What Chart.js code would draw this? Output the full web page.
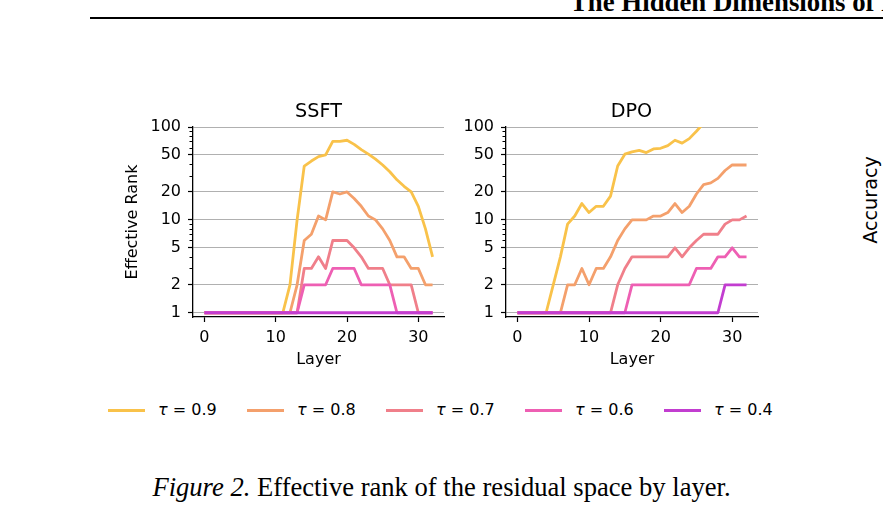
<!DOCTYPE html>
<html>
<head>
<meta charset="utf-8">
<script src="https://cdn.jsdelivr.net/npm/chart.js@4.4.1/dist/chart.umd.min.js"></script>
<style>
  html, body { margin: 0; padding: 0; }
  body {
    width: 883px; height: 529px; position: relative; overflow: hidden;
    background: #fff; color: #000; font-family: "DejaVu Sans", sans-serif;
  }
  .abs { position: absolute; }
  #runhead {
    left: 570px; top: -11px; white-space: nowrap;
    font: bold 26.8px/1 "Liberation Serif", serif;
  }
  #rule { left: 90px; right: 0; top: 17px; height: 2px; background: #000; }
  .ptitle { top: 100px; width: 251px; text-align: center; font-size: 19.2px; line-height: 22px; }
  #sideLabel {
    left: 870px; top: 200px; white-space: nowrap; font-size: 19.2px;
    transform: translate(-50%, -50%) rotate(-90deg);
  }
  #legend { left: 108px; top: 400px; display: flex; font-size: 16px; line-height: 20px; }
  #legend .item { width: 139px; display: flex; align-items: center; white-space: nowrap; }
  #legend .swatch { width: 37px; height: 3px; margin-right: 13px; }
  #caption {
    left: 0; width: 883px; top: 474px; text-align: center;
    font: 26.6px/1 "Liberation Serif", serif;
  }
</style>
</head>
<body>
<div id="runhead" class="abs">The Hidden Dimensions of LLM Alignment</div>
<div id="rule" class="abs"></div>

<canvas id="ssftChart" class="abs" width="331" height="269" style="left:121px;top:100px"></canvas>
<canvas id="dpoChart" class="abs" width="332" height="269" style="left:434px;top:100px"></canvas>

<div class="abs ptitle" style="left:193px">SSFT</div>
<div class="abs ptitle" style="left:506px">DPO</div>
<div id="sideLabel" class="abs">Accuracy</div>

<div id="legend" class="abs"></div>
<div id="caption" class="abs"><i>Figure 2.</i> Effective rank of the residual space by layer.</div>

<script>
const layers = [0, 1, 2, 3, 4, 5, 6, 7, 8, 9, 10, 11, 12, 13, 14, 15, 16,
                17, 18, 19, 20, 21, 22, 23, 24, 25, 26, 27, 28, 29, 30, 31, 32];
const taus = ['0.9', '0.8', '0.7', '0.6', '0.4'];
const seriesColors = ['#f9c24a', '#f4a06c', '#f07f8a', '#ee5fb3', '#c23dd0'];

// SSFT effective rank per layer
const ssft09 = [1,1,1,1,1,1,1,1,1,1,1,1,2,10,38,43,48,50,70,70,72,65,57,51,45,39,33,27,23,20,14,8,4];
const ssft08 = [1,1,1,1,1,1,1,1,1,1,1,1,1,2,6,7,11,10,20,19,20,17,14,11,10,8,6,4,4,3,3,2,2];
const ssft07 = [1,1,1,1,1,1,1,1,1,1,1,1,1,1,3,3,4,3,6,6,6,5,4,3,3,3,2,2,2,2,1,1,1];
const ssft06 = [1,1,1,1,1,1,1,1,1,1,1,1,1,1,2,2,2,2,3,3,3,3,2,2,2,2,2,1,1,1,1,1,1];
const ssft04 = [1,1,1,1,1,1,1,1,1,1,1,1,1,1,1,1,1,1,1,1,1,1,1,1,1,1,1,1,1,1,1,1,1];

// DPO effective rank per layer (0.9 runs off the top of the axis)
const dpo09 = [1,1,1,1,1,2,4,9,11,15,12,14,14,18,38,51,54,56,53,58,59,63,72,67,75,90,110,125,135,145,155,160,165];
const dpo08 = [1,1,1,1,1,1,1,2,2,3,2,3,3,4,6,8,10,10,10,11,11,12,15,12,14,19,24,25,28,34,39,39,39];
const dpo07 = [1,1,1,1,1,1,1,1,1,1,1,1,1,1,2,3,4,4,4,4,4,4,5,4,5,6,7,7,7,9,10,10,11];
const dpo06 = [1,1,1,1,1,1,1,1,1,1,1,1,1,1,1,1,2,2,2,2,2,2,2,2,2,3,3,3,4,4,5,4,4];
const dpo04 = [1,1,1,1,1,1,1,1,1,1,1,1,1,1,1,1,1,1,1,1,1,1,1,1,1,1,1,1,1,2,2,2,2];

const yTicks = [1, 2, 3, 4, 5, 6, 7, 8, 9, 10, 20, 30, 40, 50, 60, 70, 80, 90, 100];
const yMajor = [1, 2, 5, 10, 20, 50, 100];
const xTicks = [0, 10, 20, 30];

const axisFont = { family: 'DejaVu Sans', size: 16 };

// short minor ticks on the log axis, like matplotlib
const minorTicks = {
    id: 'minorTicks',
    afterDraw(chart) {
        const { ctx, chartArea, scales: { y } } = chart;
        ctx.save();
        ctx.strokeStyle = '#000';
        ctx.lineWidth = 1;
        y.ticks.forEach(t => {
            if (yMajor.includes(t.value)) return;
            const py = Math.round(y.getPixelForValue(t.value)) + 0.5;
            ctx.beginPath();
            ctx.moveTo(chartArea.left - 3.5, py);
            ctx.lineTo(chartArea.left, py);
            ctx.stroke();
        });
        ctx.restore();
    }
};

function makeChart(id, series, showYTitle) {
    const datasets = series.map((vals, i) => ({
        label: 'τ = ' + taus[i],
        data: layers.map((l, j) => ({ x: l, y: vals[j] })),
        borderColor: seriesColors[i],
        borderWidth: 2.8,
        borderJoinStyle: 'round',
        pointRadius: 0,
        tension: 0,
        order: series.length - i
    }));

    new Chart(document.getElementById(id), {
        type: 'line',
        data: { datasets },
        plugins: [minorTicks],
        options: {
            responsive: false,
            animation: false,
            layout: { padding: { top: 27, right: 8, left: 0, bottom: 0 } },
            plugins: { legend: { display: false }, tooltip: { enabled: false } },
            scales: {
                x: {
                    type: 'linear',
                    min: -1.6,
                    max: 33.6,
                    afterBuildTicks: s => { s.ticks = xTicks.map(v => ({ value: v })); },
                    afterFit: s => { s.height = 52; },
                    border: { color: '#000', width: 1.3 },
                    grid: { drawOnChartArea: false, tickLength: 5, tickColor: '#000', tickWidth: 1.2 },
                    ticks: { padding: 6, color: '#000', font: axisFont, maxRotation: 0 },
                    title: { display: true, text: 'Layer', color: '#000', font: axisFont, padding: { top: 0, bottom: 0 } }
                },
                y: {
                    type: 'logarithmic',
                    min: 0.9,
                    max: 100,
                    afterBuildTicks: s => { s.ticks = yTicks.map(v => ({ value: v })); },
                    afterFit: s => { s.width = 72; },
                    border: { color: '#000', width: 1.3 },
                    grid: {
                        color: c => yMajor.includes(c.tick.value) ? '#b0b0b0' : 'rgba(0,0,0,0)',
                        lineWidth: 1,
                        tickLength: 5,
                        tickColor: c => yMajor.includes(c.tick.value) ? '#000' : 'rgba(0,0,0,0)',
                        tickWidth: 1.2
                    },
                    ticks: {
                        autoSkip: false,
                        padding: 7,
                        color: '#000',
                        font: axisFont,
                        callback: v => yMajor.includes(v) ? String(v) : ''
                    },
                    title: { display: showYTitle, text: 'Effective Rank', color: '#000', font: axisFont, padding: { top: 2.4, bottom: 0 } }
                }
            }
        }
    });
}

makeChart('ssftChart', [ssft09, ssft08, ssft07, ssft06, ssft04], true);
makeChart('dpoChart', [dpo09, dpo08, dpo07, dpo06, dpo04], false);

// legend below both panels
const legend = document.getElementById('legend');
taus.forEach((t, i) => {
    const item = document.createElement('span');
    item.className = 'item';
    item.innerHTML = '<span class="swatch" style="background:' + seriesColors[i] + '"></span>' +
        '<span><i>τ</i> = ' + t + '</span>';
    legend.appendChild(item);
});
</script>
</body>
</html>
